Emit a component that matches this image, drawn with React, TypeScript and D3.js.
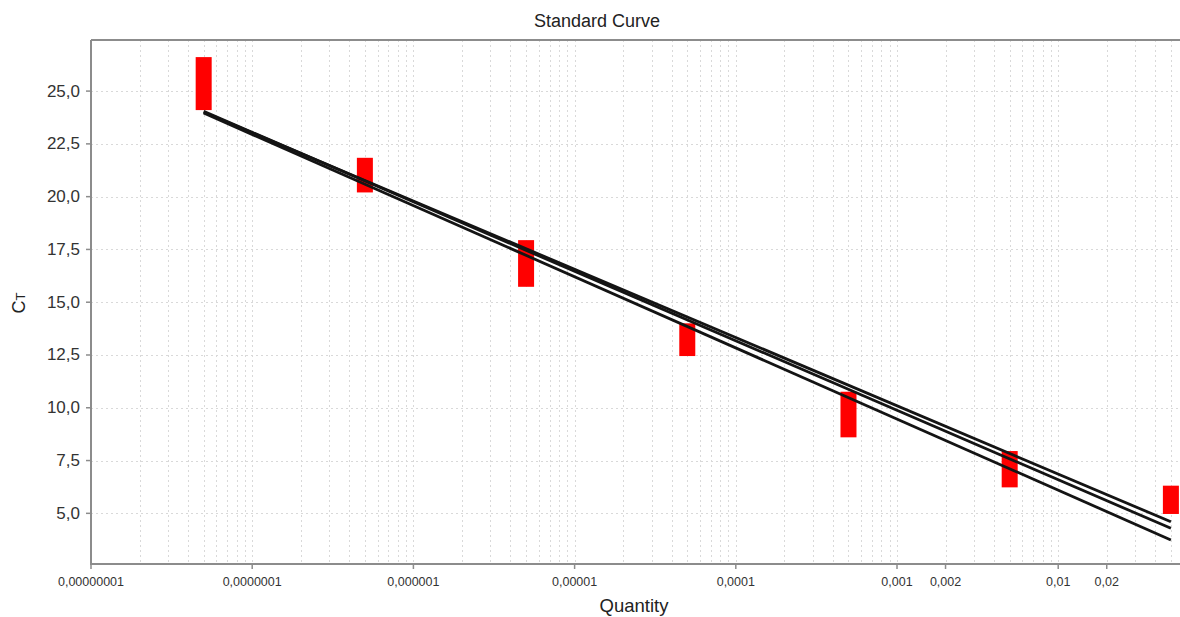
import React from "react";
import * as d3 from "d3";

// Dilution series (quantity) and the Ct spread of the replicates at each level
const quantities = [5e-8, 5e-7, 5e-6, 5e-5, 5e-4, 5e-3, 5e-2];
const ctHigh = [26.61, 21.84, 17.94, 14.0, 10.76, 7.95, 6.31];
const ctLow = [24.1, 20.2, 15.73, 12.45, 8.6, 6.23, 4.97];

// Regression lines, evaluated at the ends of the dilution range
const fitQuantities = [5e-8, 5e-2];
const fitLineA = [24.0, 4.6];
const fitLineB = [24.04, 4.29];
const fitLineC = [23.96, 3.74];

// Axis ticks
const xTickValues = [1e-8, 1e-7, 1e-6, 1e-5, 1e-4, 1e-3, 2e-3, 1e-2, 2e-2];
const xTickLabels = [
  "0,00000001",
  "0,0000001",
  "0,000001",
  "0,00001",
  "0,0001",
  "0,001",
  "0,002",
  "0,01",
  "0,02",
];
const yTickValues = [5, 7.5, 10, 12.5, 15, 17.5, 20, 22.5, 25];
const yTickLabels = ["5,0", "7,5", "10,0", "12,5", "15,0", "17,5", "20,0", "22,5", "25,0"];

const xDomain = [1e-8, 0.0586];
const yDomain = [2.6, 27.42];

const W = 1180;
const H = 617;
const plot = { left: 91, right: 1182, top: 40, bottom: 564 };
const FONT = "'Liberation Sans', Arial, sans-serif";

export default function App() {
  const x = d3.scaleLog().domain(xDomain).range([plot.left, plot.right]);
  const y = d3.scaleLinear().domain(yDomain).range([plot.bottom, plot.top]);

  // Grid positions: every 1..9 multiple of each decade inside the domain
  const gridX: number[] = [];
  for (let e = -8; e <= -1; e++) {
    for (let k = 1; k <= 9; k++) {
      const v = k * Math.pow(10, e);
      if (v > xDomain[0] && v <= xDomain[1]) gridX.push(v);
    }
  }

  const line = d3
    .line<number>()
    .x((_, i) => x(fitQuantities[i]))
    .y((d) => y(d));

  const fits = [fitLineA, fitLineB, fitLineC];
  const boxW = 16;

  return (
    <svg
      width={W}
      height={H}
      style={{ position: "fixed", left: 0, top: 0, background: "#fff" }}
    >
      <defs>
        <clipPath id="plotClip">
          <rect
            x={plot.left}
            y={plot.top}
            width={plot.right - plot.left}
            height={plot.bottom - plot.top}
          />
        </clipPath>
      </defs>
      <rect x={0} y={0} width={W} height={H} fill="#fff" />

      {/* grid */}
      <g stroke="#d9d9d9" strokeWidth={1} strokeDasharray="2,3">
        {gridX.map((v, i) => (
          <line
            key={"gx" + i}
            x1={Math.round(x(v)) + 0.5}
            x2={Math.round(x(v)) + 0.5}
            y1={plot.top}
            y2={plot.bottom}
          />
        ))}
        {yTickValues.map((v, i) => (
          <line
            key={"gy" + i}
            x1={plot.left}
            x2={plot.right}
            y1={Math.round(y(v)) + 0.5}
            y2={Math.round(y(v)) + 0.5}
          />
        ))}
      </g>

      {/* replicate ranges and fitted lines */}
      <g clipPath="url(#plotClip)">
        {quantities.map((q, i) => (
          <rect
            key={"b" + i}
            x={x(q) - boxW / 2}
            y={y(ctHigh[i])}
            width={boxW}
            height={y(ctLow[i]) - y(ctHigh[i])}
            fill="#ff0000"
          />
        ))}
        {fits.map((f, i) => (
          <path
            key={"f" + i}
            d={line(f) || ""}
            fill="none"
            stroke="#141414"
            strokeWidth={2.8}
          />
        ))}
      </g>

      {/* frame */}
      <g stroke="#8c8c8c" strokeWidth={2} fill="none">
        <line x1={plot.left} x2={plot.right} y1={plot.top} y2={plot.top} />
        <line x1={plot.left} x2={plot.left} y1={plot.top} y2={plot.bottom + 1} />
        <line x1={plot.left - 1} x2={plot.right} y1={plot.bottom} y2={plot.bottom} />
      </g>

      {/* y axis */}
      <g fontFamily={FONT} fontSize={17} fill="#333">
        {yTickValues.map((v, i) => (
          <g key={"yt" + i}>
            <line
              x1={plot.left - 5}
              x2={plot.left}
              y1={y(v)}
              y2={y(v)}
              stroke="#8c8c8c"
              strokeWidth={1.5}
            />
            <text x={80} y={y(v)} textAnchor="end" dominantBaseline="central">
              {yTickLabels[i]}
            </text>
          </g>
        ))}
      </g>

      {/* x axis */}
      <g fontFamily={FONT} fontSize={12.5} fill="#333">
        {xTickValues.map((v, i) => (
          <g key={"xt" + i}>
            <line
              x1={x(v)}
              x2={x(v)}
              y1={plot.bottom}
              y2={plot.bottom + 5}
              stroke="#8c8c8c"
              strokeWidth={1.5}
            />
            <text x={x(v)} y={586} textAnchor="middle">
              {xTickLabels[i]}
            </text>
          </g>
        ))}
      </g>

      {/* titles */}
      <text
        x={597}
        y={27}
        textAnchor="middle"
        fontFamily={FONT}
        fontSize={18}
        fill="#222"
      >
        Standard Curve
      </text>
      <text
        x={634}
        y={612}
        textAnchor="middle"
        fontFamily={FONT}
        fontSize={18.5}
        fill="#222"
      >
        Quantity
      </text>
      <text
        transform="translate(25,303) rotate(-90)"
        textAnchor="middle"
        fontFamily={FONT}
        fontSize={18}
        fill="#222"
      >
        C<tspan fontSize={13}>T</tspan>
      </text>
    </svg>
  );
}
